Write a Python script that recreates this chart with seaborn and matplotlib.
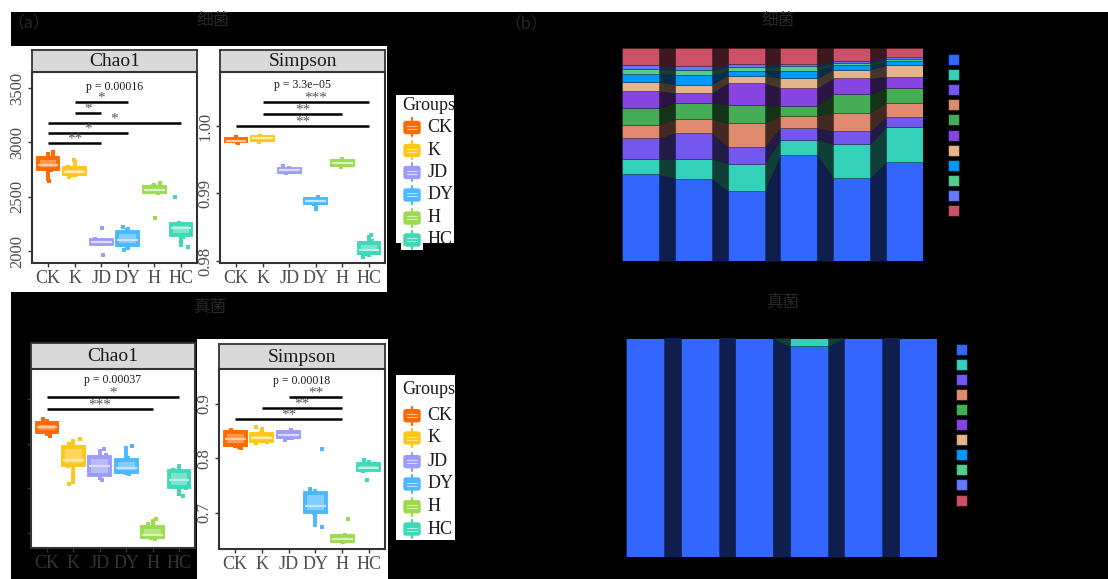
import numpy as np
import matplotlib
matplotlib.use("Agg")
import matplotlib.pyplot as plt
import matplotlib.colors as mcolors
import matplotlib.transforms as mtransforms
from matplotlib.patches import Rectangle, FancyBboxPatch
import seaborn as sns

# ---------------------------------------------------------------- data
groups = ["CK", "K", "JD", "DY", "H", "HC"]
group_colors = ["#FF6A00", "#FFC61A", "#9C9CFF", "#4DB8FF", "#9ADB4F", "#3FD9B5"]

# bacterial alpha diversity (one list of samples per group, in `groups` order)
bac_chao1 = [
    [2640, 2745, 2780, 2800, 2880, 2910],
    [2680, 2700, 2720, 2740, 2770, 2840],
    [1960, 2065, 2080, 2090, 2110, 2215],
    [2010, 2040, 2090, 2120, 2190, 2220],
    [2300, 2535, 2550, 2570, 2595, 2630],
    [2040, 2130, 2200, 2220, 2255, 2500],
]
bac_simpson = [
    [0.9975, 0.9977, 0.9978, 0.9979, 0.9981, 0.9983],
    [0.9977, 0.9979, 0.9981, 0.9982, 0.9984, 0.9985],
    [0.9930, 0.9932, 0.9934, 0.9935, 0.9937, 0.9941],
    [0.9877, 0.9885, 0.9888, 0.9890, 0.9893, 0.9895],
    [0.9939, 0.9942, 0.9944, 0.9946, 0.9948, 0.9951],
    [0.9806, 0.9811, 0.9815, 0.9818, 0.9829, 0.9838],
]
# fungal alpha diversity
fun_chao1 = [
    [418, 422, 436, 440, 447, 456],
    [309, 350, 360, 368, 400, 410],
    [320, 324, 345, 355, 375, 388],
    [333, 335, 343, 350, 369, 396],
    [187, 189, 195, 198, 220, 232],
    [283, 300, 310, 330, 342, 350],
]
fun_simpson = [
    [0.819, 0.821, 0.832, 0.840, 0.852, 0.853],
    [0.828, 0.830, 0.835, 0.840, 0.847, 0.858],
    [0.833, 0.838, 0.842, 0.845, 0.849, 0.853],
    [0.673, 0.700, 0.708, 0.716, 0.743, 0.817],
    [0.645, 0.647, 0.650, 0.653, 0.658, 0.688],
    [0.760, 0.777, 0.781, 0.785, 0.790, 0.797],
]

# pairwise comparisons: (group a, group b, bracket height, label)
bac_chao1_sig = [("CK", "JD", 2990, "**"), ("CK", "DY", 3083, "*"), ("CK", "HC", 3174, "*"),
                 ("K", "JD", 3266, "*"), ("K", "DY", 3367, "*")]
bac_simpson_sig = [("CK", "HC", 1.0000, "**"), ("K", "H", 1.0018, "**"), ("K", "HC", 1.0035, "***")]
fun_chao1_sig = [("CK", "H", 478, "***"), ("CK", "HC", 504, "*")]
fun_simpson_sig = [("CK", "H", 0.8716, "**"), ("K", "H", 0.892, "**"), ("JD", "H", 0.912, "**")]

bac_chao1_p, bac_simpson_p = "p = 0.00016", "p = 3.3e\u221205"
fun_chao1_p, fun_simpson_p = "p = 0.00037", "p = 0.00018"

# relative abundance of the 11 leading taxa (bottom to top of each bar)
taxa_colors = ["#3366FF", "#33D1B8", "#7457EE", "#E08B70", "#44AD55", "#8844E0",
               "#E5B48C", "#0099FF", "#55CC8C", "#6677FF", "#CC5066"]
bac_comp = [
    [40.7, 7.1, 9.9, 6.4, 7.7, 8.0, 4.4, 3.9, 2.2, 1.6, 8.2],
    [38.6, 9.1, 12.2, 6.4, 7.8, 4.7, 3.8, 4.7, 2.2, 1.7, 8.6],
    [32.8, 12.9, 7.8, 11.1, 8.8, 10.0, 3.6, 2.2, 1.6, 1.4, 7.7],
    [49.8, 7.2, 5.7, 5.7, 4.7, 8.3, 4.6, 3.6, 1.9, 1.3, 7.4],
    [38.9, 15.9, 6.0, 8.5, 8.8, 7.5, 4.2, 2.0, 0.9, 1.1, 6.1],
    [46.5, 16.3, 4.9, 6.6, 7.2, 5.2, 5.2, 1.9, 1.1, 1.1, 4.1],
]
fun_comp = [
    [99.8, 0.1, 0, 0, 0.1, 0, 0, 0, 0, 0, 0],
    [99.8, 0.1, 0, 0, 0.1, 0, 0, 0, 0, 0, 0],
    [99.8, 0.1, 0, 0, 0.1, 0, 0, 0, 0, 0, 0],
    [96.2, 3.8, 0, 0, 0, 0, 0, 0, 0, 0, 0],
    [99.8, 0.1, 0, 0, 0.1, 0, 0, 0, 0, 0, 0],
    [99.8, 0.1, 0, 0, 0.1, 0, 0, 0, 0, 0, 0],
]

# ---------------------------------------------------------------- layout helpers
W, H = 1108, 579
SERIF = "Liberation Serif"
CJK = ["Noto Sans CJK SC", "DejaVu Sans"]
DIM = "#272727"

sns.set_theme(style="white")
plt.rcParams["font.family"] = [SERIF, "DejaVu Sans"]
np.random.seed(3)

fig = plt.figure(figsize=(W / 100, H / 100), dpi=100, facecolor="black")


def frac(x0, y0, x1, y1):
    return [x0 / W, 1 - y1 / H, (x1 - x0) / W, (y1 - y0) / H]


def white_area(x0, y0, x1, y1):
    r = Rectangle((x0 / W, 1 - y1 / H), (x1 - x0) / W, (y1 - y0) / H,
                  transform=fig.transFigure, facecolor="white", edgecolor="none", zorder=-5)
    fig.add_artist(r)


def lighten(c, f):
    r, g, b = mcolors.to_rgb(c)
    return (r + (1 - r) * f, g + (1 - g) * f, b + (1 - b) * f)


def strip(box, label):
    sax = fig.add_axes(frac(*box))
    sax.set_facecolor("#D9D9D9")
    sax.set_xticks([])
    sax.set_yticks([])
    for s in sax.spines.values():
        s.set_color("#333333")
        s.set_linewidth(1.3)
        s.set_visible(True)
    sax.text(0.5, 0.47, label, ha="center", va="center", fontsize=14,
             family=SERIF, color="#1a1a1a", transform=sax.transAxes)


def alpha_panel(box, values, ylim, yticks, yticklabels, sigs, ptext, py,
                xlabel_color="#4D4D4D"):
    ax = fig.add_axes(frac(*box))
    ax.set_facecolor("white")
    for g, c, vals in zip(groups, group_colors, values):
        sns.stripplot(x=[g] * len(vals), y=vals, order=groups, color=c, size=3.2,
                      marker="s", jitter=0.26, linewidth=0, ax=ax, zorder=1)
        sns.boxplot(x=[g] * len(vals), y=vals, order=groups, color=lighten(c, 0.3),
                    linecolor=c, linewidth=2.8, width=0.78, saturation=1,
                    showfliers=False, showcaps=False,
                    medianprops=dict(color=lighten(c, 0.65), linewidth=1.6),
                    ax=ax, zorder=2)
    # stars sit a few pixels above their bracket
    star_tr = ax.transData + mtransforms.ScaledTranslation(0, 3 / 72, fig.dpi_scale_trans)
    for a, b, y, lab in sigs:
        xa, xb = groups.index(a), groups.index(b)
        ax.plot([xa, xb], [y, y], color="black", lw=1.8, solid_capstyle="butt", zorder=3)
        ax.text((xa + xb) / 2, y, lab, ha="center", va="center", fontsize=11,
                color="#555555", family=SERIF, zorder=4, transform=star_tr)
    ax.text(2.5, py, ptext, ha="center", va="center", fontsize=8.5,
            color="#1a1a1a", family=SERIF)
    ax.set_xlim(-0.6, 5.6)
    ax.set_ylim(*ylim)
    ax.set_xlabel("")
    ax.set_ylabel("")
    ax.set_yticks(yticks)
    ax.set_yticklabels(yticklabels, rotation=90, va="center", fontsize=12,
                       color="#4D4D4D", family=SERIF)
    ax.set_xticks(range(len(groups)))
    ax.set_xticklabels(groups, fontsize=13, color=xlabel_color, family=SERIF)
    ax.tick_params(axis="both", length=3, width=1, color="#333333", pad=2,
                   bottom=True, left=True)
    for s in ax.spines.values():
        s.set_color("#333333")
        s.set_linewidth(1.5)
        s.set_visible(True)
    ax.grid(False)
    return ax


def legend_box(box, title_y, entry_ys):
    x0, y0, x1, y1 = box
    lax = fig.add_axes(frac(*box))
    lax.set_xlim(x0, x1)
    lax.set_ylim(y1, y0)
    lax.set_facecolor("white")
    lax.set_xticks([])
    lax.set_yticks([])
    for s in lax.spines.values():
        s.set_visible(False)
    lax.text(402.5, title_y, "Groups", ha="left", va="center", fontsize=13,
             family=SERIF, color="#1a1a1a")
    for g, c, yc in zip(groups, group_colors, entry_ys):
        lax.add_patch(Rectangle((401, yc - 10), 22, 20, facecolor="white",
                                edgecolor="none", clip_on=False, zorder=2))
        lax.plot([412, 412], [yc - 9, yc + 9], color=c, lw=1.6, clip_on=False, zorder=3)
        lax.add_patch(FancyBboxPatch((404, yc - 6), 16, 12,
                                     boxstyle="round,pad=0,rounding_size=2",
                                     facecolor=c, edgecolor=c, lw=1, clip_on=False, zorder=3))
        lax.plot([407, 417], [yc - 1.5, yc - 1.5], color=lighten(c, 0.6), lw=0.8,
                 clip_on=False, zorder=4)
        lax.plot([407, 417], [yc + 1.5, yc + 1.5], color=lighten(c, 0.6), lw=0.8,
                 clip_on=False, zorder=4)
        t = lax.text(427.5, yc, g, ha="left", va="center", fontsize=13,
                     family=SERIF, color="#1a1a1a", zorder=4)
        t.set_clip_on(True)


def stacked_panel(box, comp, width=0.7):
    ax = fig.add_axes(frac(*box))
    comp = np.asarray(comp, float)
    comp = comp / comp.sum(axis=1, keepdims=True) * 100
    x = np.arange(len(comp))
    base = np.zeros(len(comp))
    for k, c in enumerate(taxa_colors):
        h = comp[:, k]
        ax.bar(x, h, width=width, bottom=base, color=c,
               edgecolor=(0, 0, 0, 0.25), linewidth=0.6, zorder=2)
        for i in range(len(x) - 1):
            ax.fill_between([x[i] + width / 2, x[i + 1] - width / 2],
                            [base[i], base[i + 1]],
                            [base[i] + h[i], base[i + 1] + h[i + 1]],
                            color=c, alpha=0.3, linewidth=0, zorder=1)
        base = base + h
    ax.set_xlim(-width / 2, len(x) - 1 + width / 2)
    ax.set_ylim(0, 100)
    ax.axis("off")
    return ax


def taxa_keys(x0, y_first, step):
    for k, c in enumerate(taxa_colors):
        yc = y_first + k * step
        r = Rectangle((x0 / W, 1 - (yc + 5.5) / H), 11 / W, 11 / H,
                      transform=fig.transFigure, facecolor=c,
                      edgecolor=(0, 0, 0, 0.5), lw=0.8)
        fig.add_artist(r)


# ---------------------------------------------------------------- background
white_area(0, 0, W, 12)
white_area(0, 0, 11, H)
white_area(11, 46, 387, 292)
white_area(197, 339, 388, 579)

# ---------------------------------------------------------------- (a) alpha diversity
strip((32, 50, 197, 72), "Chao1")
alpha_panel((32, 72, 197, 263), bac_chao1, (1890, 3647), [2000, 2500, 3000, 3500],
            ["2000", "2500", "3000", "3500"], bac_chao1_sig, bac_chao1_p, 3505)

strip((220, 50, 385, 72), "Simpson")
alpha_panel((220, 72, 385, 263), bac_simpson, (0.9797, 1.0080), [0.98, 0.99, 1.00],
            ["0.98", "0.99", "1.00"], bac_simpson_sig, bac_simpson_p, 1.0061)

legend_box((396, 95, 454, 243), 106, [127.5, 150.5, 172.5, 195, 218, 240])

strip((31, 343, 195, 369), "Chao1")
alpha_panel((31, 369, 195, 548), fun_chao1, (167, 567), [200, 300, 400, 500],
            ["", "", "", ""], fun_chao1_sig, fun_chao1_p, 542,
            xlabel_color="#353535")

strip((219, 344, 385, 369), "Simpson")
alpha_panel((219, 369, 385, 549), fun_simpson, (0.633, 0.9644), [0.7, 0.8, 0.9],
            ["0.7", "0.8", "0.9"], fun_simpson_sig, fun_simpson_p, 0.943)

legend_box((396, 375, 455, 540), 390, [415.7, 438, 461.7, 484, 506.7, 529])

# ---------------------------------------------------------------- (b) community composition
stacked_panel((622, 48, 923, 261), bac_comp)
taxa_keys(948, 59, 15.2)
stacked_panel((626, 338, 937, 557), fun_comp)
taxa_keys(956, 349, 15.1)

# ---------------------------------------------------------------- titles
def ftext(x, y, s, size=12):
    fig.text(x / W, 1 - y / H, s, ha="center", va="center", fontsize=size,
             color=DIM, family=CJK)

ftext(29, 23, "（a）")
ftext(213, 21, "细菌")
ftext(526, 24, "（b）")
ftext(778, 21, "细菌")
ftext(210, 307, "真菌")
ftext(783, 302, "真菌")

fig.savefig("out.png", dpi=100, facecolor="black")
